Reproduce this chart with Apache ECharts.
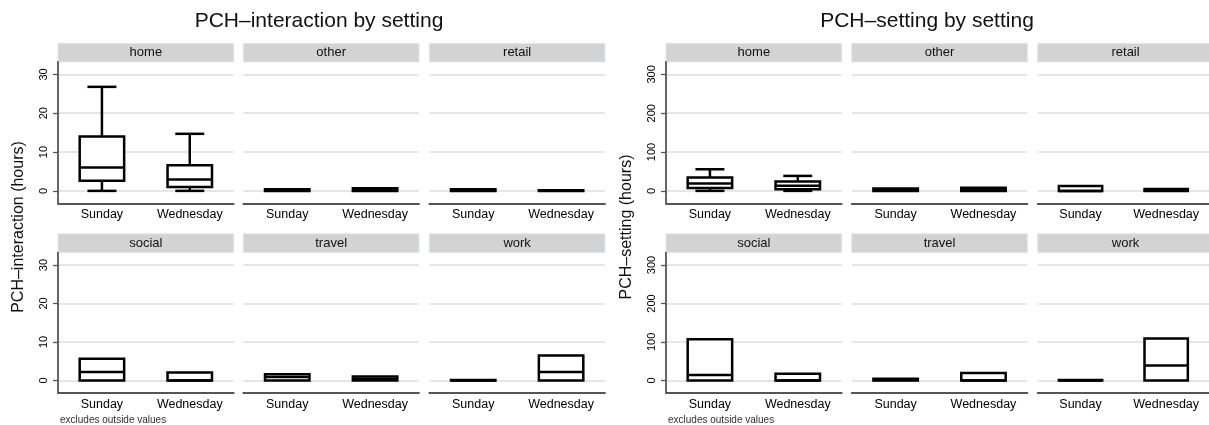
<!DOCTYPE html>
<html>
<head>
<meta charset="utf-8">
<script src="https://cdn.jsdelivr.net/npm/echarts@6/dist/echarts.min.js"></script>
<style>
  html, body { margin: 0; padding: 0; background: #ffffff; }
  #chart { width: 1209px; height: 425px; }
</style>
</head>
<body>
<div id="chart"></div>
<script>
// Facets and groups
const settings = ['home', 'other', 'retail', 'social', 'travel', 'work'];
const days = ['Sunday', 'Wednesday'];

// Five-number summaries per setting: [lower whisker, Q1, median, Q3, upper whisker]
const interactionSunday = [
  [0, 2.6, 6.0, 14.0, 26.8],
  [0, 0, 0.2, 0.45, 0.45],
  [0, 0, 0.15, 0.4, 0.4],
  [0, 0, 2.15, 5.6, 5.6],
  [0, 0, 0.9, 1.6, 1.6],
  [0, 0, 0, 0.1, 0.1]
];
const interactionWednesday = [
  [0, 1.0, 2.9, 6.6, 14.7],
  [0, 0, 0.3, 0.7, 0.7],
  [0, 0, 0.05, 0.15, 0.15],
  [0, 0, 0, 2.05, 2.05],
  [0, 0, 0.4, 1.0, 1.0],
  [0, 0, 2.15, 6.45, 6.45]
];
const settingSunday = [
  [0, 7.7, 18.8, 34.3, 55.7],
  [0, 0, 2, 6, 6],
  [0, 0, 0, 12.5, 12.5],
  [0, 0, 14, 107, 107],
  [0, 0, 1, 4.5, 4.5],
  [0, 0, 0, 1, 1]
];
const settingWednesday = [
  [0, 4.1, 12.9, 24, 38.6],
  [0, 0, 3, 8, 8],
  [0, 0, 1.5, 5, 5],
  [0, 0, 0, 17, 17],
  [0, 0, 0, 19, 19],
  [0, 0, 39, 109, 109]
];

// Tick labels
const interactionTicks = [0, 10, 20, 30];
const settingTicks = [0, 100, 200, 300];

const charts = [
  {
    title: 'PCH\u2013interaction by setting',
    yName: 'PCH\u2013interaction (hours)',
    sunday: interactionSunday, wednesday: interactionWednesday,
    ticks: interactionTicks, yMin: -3.2, yMax: 33.2,
    colX: [58, 243.3, 429.3], titleX: 319, yNameX: 19, noteX: 60
  },
  {
    title: 'PCH\u2013setting by setting',
    yName: 'PCH\u2013setting (hours)',
    sunday: settingSunday, wednesday: settingWednesday,
    ticks: settingTicks, yMin: -32, yMax: 332,
    colX: [666, 851.7, 1037.7], titleX: 927, yNameX: 627, noteX: 668
  }
];

// Panel geometry
const PANEL_W = 175.7;
const rows = [
  { stripTop: 43.3, stripH: 18.7, plotTop: 62, plotH: 141.3 },
  { stripTop: 233.8, stripH: 18.9, plotTop: 252.7, plotH: 140 }
];

const FONT = '"Liberation Sans", Arial, Helvetica, sans-serif';
const AXIS_COLOR = '#555555';
const GRID_COLOR = '#e6e6e6';
const BOX_LINE = 2.5;

function renderBox(params, api) {
  const xi = api.value(0);
  const lo = api.value(1), q1 = api.value(2), md = api.value(3), q3 = api.value(4), hi = api.value(5);
  const band = api.size([1, 0])[0];
  const half = band * 0.253;
  const capHalf = band * 0.165;
  const cx = api.coord([xi, md])[0];
  const y = v => api.coord([xi, v])[1];
  const stroke = { stroke: '#000000', lineWidth: BOX_LINE };
  const children = [];
  if (hi > q3) {
    children.push({ type: 'line', shape: { x1: cx, y1: y(q3), x2: cx, y2: y(hi) }, style: stroke });
    children.push({ type: 'line', shape: { x1: cx - capHalf, y1: y(hi), x2: cx + capHalf, y2: y(hi) }, style: stroke });
  }
  if (lo < q1) {
    children.push({ type: 'line', shape: { x1: cx, y1: y(q1), x2: cx, y2: y(lo) }, style: stroke });
    children.push({ type: 'line', shape: { x1: cx - capHalf, y1: y(lo), x2: cx + capHalf, y2: y(lo) }, style: stroke });
  }
  children.push({
    type: 'rect',
    shape: { x: cx - half, y: y(q3), width: half * 2, height: y(q1) - y(q3) },
    style: { fill: '#ffffff', stroke: '#000000', lineWidth: BOX_LINE }
  });
  children.push({ type: 'line', shape: { x1: cx - half, y1: y(md), x2: cx + half, y2: y(md) }, style: stroke });
  return { type: 'group', children: children };
}

const grid = [], xAxis = [], yAxis = [], series = [], graphic = [];

charts.forEach((c, ci) => {
  graphic.push({
    type: 'text', x: c.titleX, y: 21,
    style: { text: c.title, font: '21px ' + FONT, fill: '#111111', align: 'center', verticalAlign: 'middle' }
  });
  graphic.push({
    type: 'text', x: c.yNameX, y: 227, rotation: Math.PI / 2,
    style: { text: c.yName, font: '16px ' + FONT, fill: '#111111', align: 'center', verticalAlign: 'middle' }
  });
  graphic.push({
    type: 'text', x: c.noteX, y: 420.5,
    style: { text: 'excludes outside values', font: '10px ' + FONT, fill: '#333333', align: 'left', verticalAlign: 'middle' }
  });

  settings.forEach((name, si) => {
    const r = rows[Math.floor(si / 3)];
    const col = si % 3;
    const left = c.colX[col];
    const gi = grid.length;
    const firstCol = col === 0;

    grid.push({ left: left, top: r.plotTop, width: PANEL_W, height: r.plotH });

    graphic.push({
      type: 'rect',
      shape: { x: left, y: r.stripTop, width: PANEL_W, height: r.stripH },
      style: { fill: '#d3d3d3', stroke: '#dfe7ee', lineWidth: 1 }
    });
    graphic.push({
      type: 'text', x: left + PANEL_W / 2, y: r.stripTop + r.stripH / 2,
      style: { text: name, font: '13px ' + FONT, fill: '#111111', align: 'center', verticalAlign: 'middle' }
    });

    xAxis.push({
      type: 'category', gridIndex: gi, data: days, boundaryGap: true,
      axisLine: { show: true, onZero: false, lineStyle: { color: AXIS_COLOR, width: 1.8 } },
      axisTick: { show: false },
      axisLabel: { color: '#000000', fontSize: 12.5, fontFamily: FONT, margin: 5 },
      splitLine: { show: false }
    });

    yAxis.push({
      type: 'value', gridIndex: gi, min: c.yMin, max: c.yMax,
      axisLine: { show: firstCol, lineStyle: { color: AXIS_COLOR, width: 1.8 } },
      axisTick: { show: firstCol, length: 5, customValues: c.ticks, lineStyle: { color: AXIS_COLOR, width: 1.3 } },
      axisLabel: {
        show: firstCol, customValues: c.ticks, rotate: 90, margin: 9,
        color: '#000000', fontSize: 11, fontFamily: FONT
      },
      splitLine: { show: true, lineStyle: { color: GRID_COLOR, width: 1.8 } }
    });

    series.push({
      type: 'custom', xAxisIndex: gi, yAxisIndex: gi,
      renderItem: renderBox,
      encode: { x: 0, y: [1, 2, 3, 4, 5] },
      data: [
        [0].concat(c.sunday[si]),
        [1].concat(c.wednesday[si])
      ],
      silent: true
    });
  });
});

const chart = echarts.init(document.getElementById('chart'), null, { renderer: 'canvas' });
chart.setOption({
  animation: false,
  backgroundColor: '#ffffff',
  grid: grid,
  xAxis: xAxis,
  yAxis: yAxis,
  series: series,
  graphic: graphic
});
</script>
</body>
</html>
